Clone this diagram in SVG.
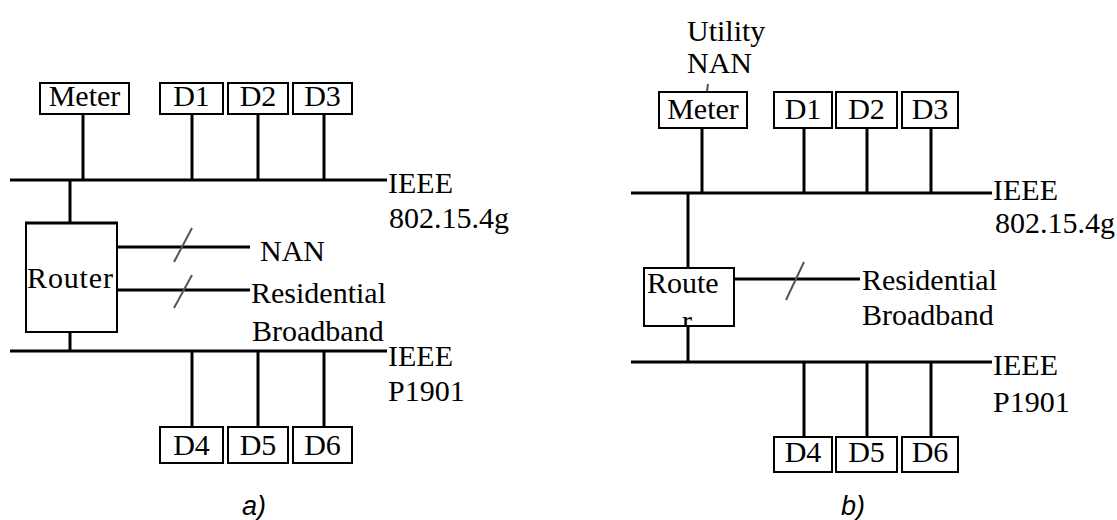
<svg xmlns="http://www.w3.org/2000/svg" width="1117" height="520" viewBox="0 0 1117 520">
<style>
.bg{fill:#fff}
.box{fill:#fff;stroke:#000;stroke-width:2}
.ln{stroke:#000;stroke-width:3;fill:none}
.sl{stroke:#555;stroke-width:2;fill:none}
.t{font-family:"Liberation Serif","Times New Roman",serif;font-size:30px;fill:#000}
.c{text-anchor:middle}
.cap{font-family:"Liberation Sans",Arial,sans-serif;font-style:italic;font-size:27px;fill:#000;text-anchor:middle}
</style>
<defs>
<clipPath id="rclip"><rect x="645" y="269" width="88" height="56"/></clipPath>
</defs>
<rect class="bg" x="0" y="0" width="1117" height="520"/>
<g id="connectors">
<line class="ln" x1="10" y1="180" x2="387" y2="180"/>
<line class="ln" x1="83" y1="114" x2="83" y2="180"/>
<line class="ln" x1="192" y1="114" x2="192" y2="180"/>
<line class="ln" x1="258" y1="114" x2="258" y2="180"/>
<line class="ln" x1="324" y1="114" x2="324" y2="180"/>
<line class="ln" x1="70" y1="180" x2="70" y2="223"/>
<line class="ln" x1="117" y1="247" x2="250" y2="247"/>
<line class="sl" x1="174" y1="262" x2="192" y2="228"/>
<line class="ln" x1="117" y1="290" x2="250" y2="290"/>
<line class="sl" x1="174" y1="308" x2="192" y2="275"/>
<line class="ln" x1="70" y1="332" x2="70" y2="351"/>
<line class="ln" x1="10" y1="351" x2="387" y2="351"/>
<line class="ln" x1="192" y1="351" x2="192" y2="427"/>
<line class="ln" x1="258" y1="351" x2="258" y2="427"/>
<line class="ln" x1="324" y1="351" x2="324" y2="427"/>
<line class="ln" x1="631" y1="193" x2="992" y2="193"/>
<line class="ln" x1="702" y1="128" x2="702" y2="193"/>
<line class="ln" x1="804" y1="128" x2="804" y2="193"/>
<line class="ln" x1="867" y1="128" x2="867" y2="193"/>
<line class="ln" x1="931" y1="128" x2="931" y2="193"/>
<line class="ln" x1="688" y1="193" x2="688" y2="268"/>
<line class="ln" x1="734" y1="279" x2="860" y2="279"/>
<line class="sl" x1="786" y1="300" x2="804" y2="262"/>
<line class="ln" x1="688" y1="326" x2="688" y2="362"/>
<line class="ln" x1="631" y1="362" x2="992" y2="362"/>
<line class="ln" x1="804" y1="362" x2="804" y2="437"/>
<line class="ln" x1="867" y1="362" x2="867" y2="437"/>
<line class="ln" x1="931" y1="362" x2="931" y2="437"/>
<line class="sl" x1="708" y1="84" x2="707" y2="91"/>
</g>
<g id="a-meter"><rect class="box" x="40" y="83" width="89" height="31"/><text class="t c" x="84.5" y="106">Meter</text></g>
<g id="a-d1"><rect class="box" x="160" y="83" width="63" height="31"/><text class="t c" x="191.5" y="106">D1</text></g>
<g id="a-d2"><rect class="box" x="228" y="83" width="60" height="31"/><text class="t c" x="258" y="106">D2</text></g>
<g id="a-d3"><rect class="box" x="293" y="83" width="59" height="31"/><text class="t c" x="322.5" y="106">D3</text></g>
<g id="a-router"><rect class="box" x="26" y="223" width="91" height="109"/><line class="ln" x1="25" y1="223" x2="118" y2="223" stroke-width="4"/><text class="t" x="27" y="288" textLength="86">Router</text></g>
<g id="a-d4"><rect class="box" x="160" y="427" width="63" height="36"/><text class="t c" x="191.5" y="455">D4</text></g>
<g id="a-d5"><rect class="box" x="228" y="427" width="60" height="36"/><text class="t c" x="258" y="455">D5</text></g>
<g id="a-d6"><rect class="box" x="293" y="427" width="59" height="36"/><text class="t c" x="322.5" y="455">D6</text></g>
<g id="a-labels">
<text class="t" x="260" y="261">NAN</text>
<text class="t" x="251" y="303">Residential</text>
<text class="t" x="252" y="341">Broadband</text>
<text class="t" x="388" y="193">IEEE</text>
<text class="t" x="389" y="228">802.15.4g</text>
<text class="t" x="388" y="366">IEEE</text>
<text class="t" x="388" y="401">P1901</text>
<text class="cap" x="254" y="515">a)</text>
</g>
<g id="b-meter"><rect class="box" x="659" y="92" width="88" height="36"/><text class="t c" x="703" y="119">Meter</text></g>
<g id="b-d1"><rect class="box" x="774" y="92" width="58" height="36"/><text class="t c" x="803" y="119">D1</text></g>
<g id="b-d2"><rect class="box" x="836" y="92" width="61" height="36"/><text class="t c" x="866.5" y="119">D2</text></g>
<g id="b-d3"><rect class="box" x="902" y="92" width="56" height="36"/><text class="t c" x="930" y="119">D3</text></g>
<g id="b-router"><rect class="box" x="644" y="268" width="90" height="58"/><text class="t" x="647" y="293">Route</text><text class="t" clip-path="url(#rclip)" x="682" y="331">r</text></g>
<g id="b-d4"><rect class="box" x="774" y="437" width="58" height="35"/><text class="t c" x="803" y="462">D4</text></g>
<g id="b-d5"><rect class="box" x="836" y="437" width="61" height="35"/><text class="t c" x="866.5" y="462">D5</text></g>
<g id="b-d6"><rect class="box" x="902" y="437" width="56" height="35"/><text class="t c" x="930" y="462">D6</text></g>
<g id="b-labels">
<text class="t" x="687" y="41">Utility</text>
<text class="t" x="687" y="73">NAN</text>
<text class="t" x="862" y="290">Residential</text>
<text class="t" x="862" y="325">Broadband</text>
<text class="t" x="993" y="200">IEEE</text>
<text class="t" x="995" y="233">802.15.4g</text>
<text class="t" x="993" y="375">IEEE</text>
<text class="t" x="993" y="412">P1901</text>
<text class="cap" x="853" y="515">b)</text>
</g>
</svg>
